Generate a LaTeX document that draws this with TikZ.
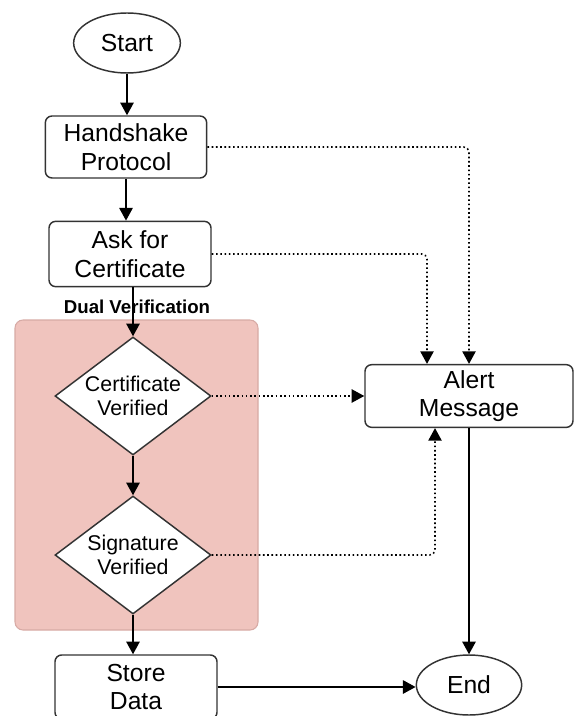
\documentclass[tikz,border=0pt]{standalone}
\usepackage{fontspec}
\setmainfont{Liberation Sans}
\usetikzlibrary{arrows.meta}
\usetikzlibrary{shapes.geometric}
\usetikzlibrary{positioning}
\tikzset{flowline/.style = {-{Triangle[length=9.5pt,width=10pt]}, line width=1.4pt},
         alertline/.style = {-{Triangle[length=9.5pt,width=10pt]}, line width=1.2pt,
                             dotted, rounded corners=4pt},
         box/.style = {draw=black!80, line width=1.1pt, fill=white, rounded corners=5pt,
                       align=center, font=\fontsize{18.5}{21.5}\selectfont},
         terminal/.style = {draw=black!80, line width=1.1pt, fill=white, ellipse,
                            inner sep=0pt, font=\fontsize{18.5}{21.5}\selectfont},
         decision/.style = {draw=black!80, line width=1.1pt, fill=white, diamond,
                            aspect=1.32, inner sep=0pt, align=center,
                            minimum width=117pt, minimum height=88.5pt,
                            font=\fontsize{16}{17.5}\selectfont}}
\definecolor{dualpink}{RGB}{240, 196, 190}
\definecolor{dualedge}{RGB}{215, 170, 165}

\begin{document}
\begin{tikzpicture}[x=0.75pt, y=-0.75pt]
    \useasboundingbox (0, 0) rectangle (574, 716);
    \fill [dualpink, draw=dualedge, line width=0.8pt, rounded corners=6pt] (15, 320) rectangle (258, 630);
    \node [font=\bfseries\fontsize{14}{16}\selectfont] (dual) at (137, 307) {Dual Verification};

    \node [terminal, minimum width=80pt, minimum height=45pt] (start) at (127, 43) {Start};
    \node [box, minimum width=121pt, minimum height=46.5pt] (hand) at (126, 147) {Handshake\\Protocol};
    \node [box, minimum width=121.5pt, minimum height=49pt] (ask) at (130, 254) {Ask for\\Certificate};
    \node [decision] (cert) at (133, 396) {Certificate\\Verified};
    \node [decision] (sig) at (133, 555) {Signature\\Verified};
    \node [box, minimum width=121.5pt, minimum height=48pt] (store) at (136, 687) {Store\\Data};
    \node [box, minimum width=156pt, minimum height=47pt] (alert) at (469, 396) {Alert\\Message};
    \node [terminal, minimum width=79pt, minimum height=45pt] (end) at (469, 685) {End};

    \draw [flowline] (start) -- (start |- hand.north);
    \draw [flowline] (hand.south) -- (hand.south |- ask.north);
    \draw [flowline] (cert.north |- ask.south) -- (cert.north);
    \draw [flowline] (cert) -- (sig);
    \draw [flowline] (sig.south) -- (sig.south |- store.north);
    \draw [flowline] (store.east) -- (store.east -| end.west);
    \draw [flowline] (alert) -- (end);

    \draw [alertline] (hand.east) -| (alert.north);
    \draw [alertline] (ask.east) -| ([xshift=-31.5pt]alert.north);
    \draw [alertline] (cert.east) -- (alert.west);
    \draw [alertline] (sig.east) -| ([xshift=-25.5pt]alert.south);
\end{tikzpicture}
\end{document}
